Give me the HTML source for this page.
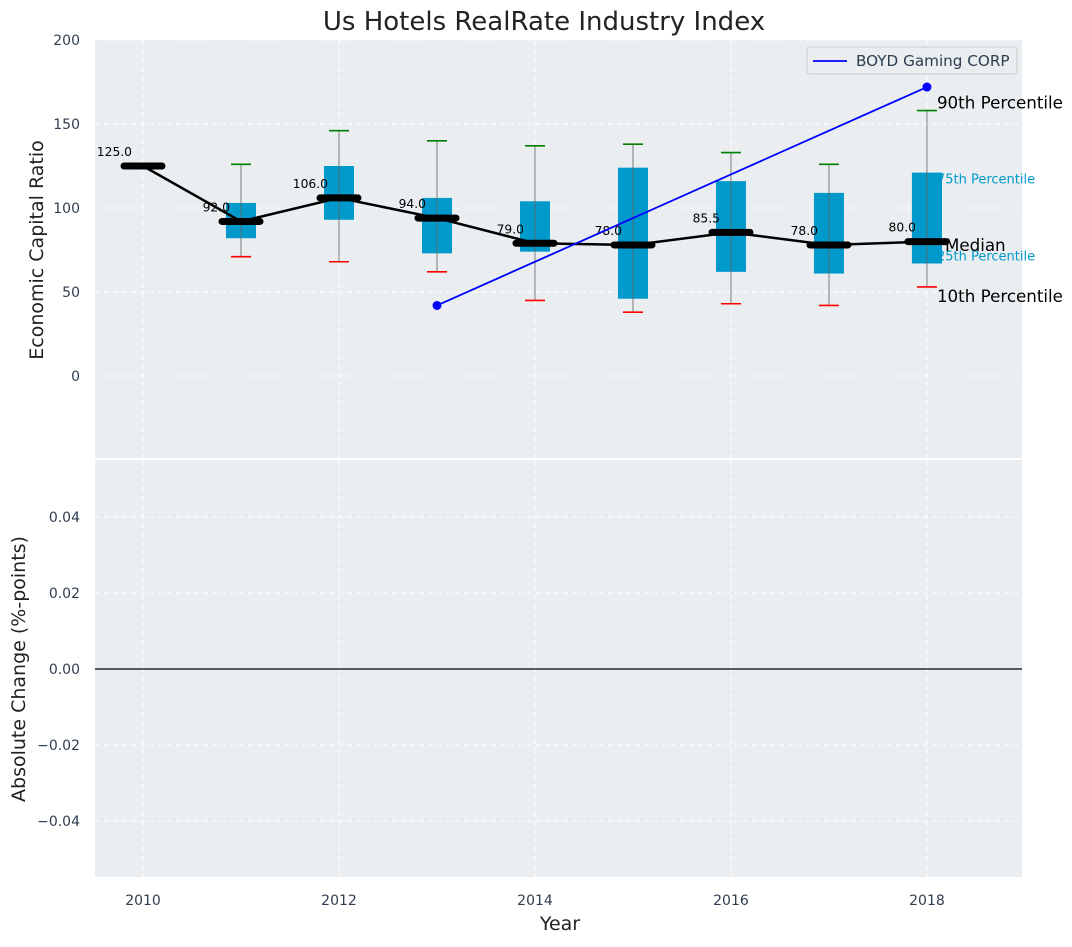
<!DOCTYPE html>
<html><head><meta charset="utf-8"><style>
body{margin:0;background:#fff;}
svg text{font-family:"DejaVu Sans","Liberation Sans",sans-serif;}
</style></head><body>
<svg id="c" width="1072" height="942" xmlns="http://www.w3.org/2000/svg"></svg>
<script>
const years=[2011,2012,2013,2014,2015,2016,2017,2018];
const p10=[71,68,62,45,38,43,42,53];
const p25=[82,93,73,74,46,62,61,67];
const p75=[103,125,106,104,124,116,109,121];
const p90=[126,146,140,137,138,133,126,158];
const medYears=[2010,2011,2012,2013,2014,2015,2016,2017,2018];
const medians=[125,92,106,94,79,78,85.5,78,80];
const boydYears=[2013,2018];
const boydVals=[42,172];
const yTicksTop=[0,50,100,150,200];
const yTicksBot=[-0.04,-0.02,0,0.02,0.04];
const xTicks=[2010,2012,2014,2016,2018];

const NS="http://www.w3.org/2000/svg";
const svg=document.getElementById('c');
const L=95,R=1022,T1=40,B1=458,T2=460,B2=877;
const X=v=>L+(v-2009.51)/(2018.97-2009.51)*(R-L);
const Y1=v=>376-v*1.68;
const Y2=v=>669-v*3800;
function el(t,a,p){const e=document.createElementNS(NS,t);for(const k in a)e.setAttribute(k,a[k]);(p||svg).appendChild(e);return e;}
function txt(s,a){const e=el('text',a);e.textContent=s;return e;}

let r=el('rect',{x:L,y:T1,width:R-L,height:B1-T1,fill:'#eaeef0'});

r=el('rect',{x:L,y:T2,width:R-L,height:B2-T2,fill:'#eaeef0'});


xTicks.forEach(v=>{
 el('line',{x1:X(v),x2:X(v),y1:T1,y2:B1,stroke:'#fff','stroke-dasharray':'5,4','stroke-width':1});
 el('line',{x1:X(v),x2:X(v),y1:T2,y2:B2,stroke:'#fff','stroke-dasharray':'5,4','stroke-width':1});
 const t=txt(v,{x:X(v),y:905,'text-anchor':'middle','font-size':14,fill:'#2e3e50'});
 
});
yTicksTop.forEach(v=>{
 el('line',{x1:L,x2:R,y1:Y1(v),y2:Y1(v),stroke:'#fff','stroke-dasharray':'5,4'});
 const t=txt(v,{x:80,y:Y1(v)+5,'text-anchor':'end','font-size':14,fill:'#2e3e50'});
 
});
yTicksBot.forEach(v=>{
 el('line',{x1:L,x2:R,y1:Y2(v),y2:Y2(v),stroke:'#fff','stroke-dasharray':'5,4'});
 const t=txt((v<0?'\u2212':'')+Math.abs(v).toFixed(2),{x:80,y:Y2(v)+5,'text-anchor':'end','font-size':14,fill:'#2e3e50'});
 
});
el('line',{x1:L,x2:R,y1:Y2(0),y2:Y2(0),stroke:'#000','stroke-width':1.2});

years.forEach((y,i)=>{
 const g=el('g',{});
 
 const cx=X(y),w=15;
 el('rect',{x:cx-w,y:Y1(p75[i]),width:2*w,height:Y1(p25[i])-Y1(p75[i]),fill:'#0099cc'},g);
 el('line',{x1:cx,x2:cx,y1:Y1(p90[i]),y2:Y1(p10[i]),stroke:'#666','stroke-opacity':0.7,'stroke-width':1.2},g);
 el('line',{x1:cx-10,x2:cx+10,y1:Y1(p90[i]),y2:Y1(p90[i]),stroke:'green','stroke-width':1.6},g);
 el('line',{x1:cx-10,x2:cx+10,y1:Y1(p10[i]),y2:Y1(p10[i]),stroke:'red','stroke-width':1.6},g);
});
const li=years.length-1,lx=X(years[li]);
[['75th Percentile',lx+10,Y1(p75[li])+11,13,'#0099cc'],['25th Percentile',lx+10,Y1(p25[li])-3,13,'#0099cc']].forEach(a=>{
 const t=txt(a[0],{x:a[1],y:a[2],'font-size':a[3],fill:a[4]});
 
});
el('rect',{x:lx-15,y:Y1(p75[li]),width:30,height:Y1(p25[li])-Y1(p75[li]),fill:'#0099cc'});
el('line',{x1:lx,x2:lx,y1:Y1(p75[li]),y2:Y1(p25[li]),stroke:'#666','stroke-opacity':0.7,'stroke-width':1.2});

const ml=el('polyline',{points:medYears.map((y,i)=>X(y)+','+Y1(medians[i])).join(' '),fill:'none',stroke:'#000','stroke-width':2.5});

medYears.forEach((y,i)=>{
 const m=el('line',{x1:X(y)-19,x2:X(y)+19,y1:Y1(medians[i]),y2:Y1(medians[i]),stroke:'#000','stroke-width':7,'stroke-linecap':'round'});
 
 const t=txt(medians[i].toFixed(1),{x:X(y)-11,y:Y1(medians[i])-10,'text-anchor':'end','font-size':12.3,fill:'#000'});
 
});
const bl=el('polyline',{points:boydYears.map((y,i)=>X(y)+','+Y1(boydVals[i])).join(' '),fill:'none',stroke:'#0000ff','stroke-width':1.8});

boydYears.forEach((y,i)=>{const c=el('circle',{cx:X(y),cy:Y1(boydVals[i]),r:4.5,fill:'#0000ff'});
 });

[['90th Percentile',lx+10,Y1(p90[li])-2,16.7,'#000'],['Median',lx+18,Y1(medians[li])+6,16.7,'#000'],
 ['10th Percentile',lx+10,Y1(p10[li])+15,16.7,'#000']].forEach(a=>{
 const t=txt(a[0],{x:a[1],y:a[2],'font-size':a[3],fill:a[4]});
 
});
const lg=el('g',{});
el('rect',{x:807,y:47,width:210,height:27,rx:3,fill:'#eaeef0',stroke:'#ccc'},lg);
el('line',{x1:813,x2:847,y1:61,y2:61,stroke:'#0000ff','stroke-width':1.8},lg);
const lt=txt('BOYD Gaming CORP',{x:856,y:66,'font-size':15.2,fill:'#2e3e50'});


let t=txt('Us Hotels RealRate Industry Index',{x:544,y:30,'text-anchor':'middle','font-size':26,fill:'#222'});

t=txt('Year',{x:560,y:930,'text-anchor':'middle','font-size':19,fill:'#222'});

t=txt('Economic Capital Ratio',{x:0,y:0,'text-anchor':'middle','font-size':19,fill:'#222',transform:'translate(43,250) rotate(-90)'});

t=txt('Absolute Change (%-points)',{x:0,y:0,'text-anchor':'middle','font-size':19,fill:'#222',transform:'translate(25,669) rotate(-90)'});

</script>
</body></html>
